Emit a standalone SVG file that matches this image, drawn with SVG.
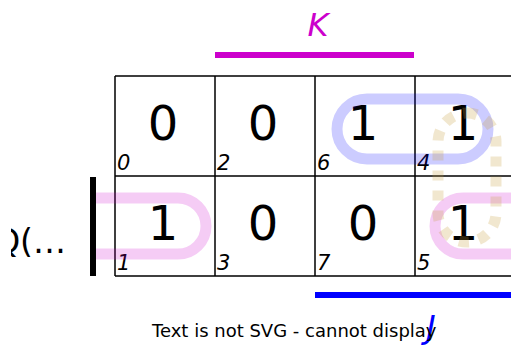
<svg xmlns="http://www.w3.org/2000/svg" width="511" height="345" viewBox="0 0 511 345">
<style>
.v{font-family:"DejaVu Sans",sans-serif;font-size:48px;text-anchor:middle;fill:#000}
.i{font-family:"DejaVu Sans",sans-serif;font-size:21px;font-style:italic;fill:#000}
.g{stroke:#000;stroke-width:1.5;fill:none}
.loop{fill:none;stroke-width:11}
</style>
<defs>
<clipPath id="qc"><rect x="11" y="0" width="500" height="345"/></clipPath>
</defs>
<rect width="511" height="345" fill="#fff"/>
<g id="grid">
<path class="g" d="M115,76H520M115,176H520M115,276H520M115,76V276M215,76V276M315,76V276M415,76V276"/>
</g>
<g id="cells">
<text class="v" x="163" y="140">0</text>
<text class="v" x="263" y="140">0</text>
<text class="v" x="363" y="140">1</text>
<text class="v" x="463" y="140">1</text>
<text class="v" x="163" y="240">1</text>
<text class="v" x="263" y="240">0</text>
<text class="v" x="363" y="240">0</text>
<text class="v" x="463" y="240">1</text>
<text class="i" x="117" y="170">0</text>
<text class="i" x="217" y="170">2</text>
<text class="i" x="317" y="170">6</text>
<text class="i" x="417" y="170">4</text>
<text class="i" x="117" y="270">1</text>
<text class="i" x="217" y="270">3</text>
<text class="i" x="317" y="270">7</text>
<text class="i" x="417" y="270">5</text>
</g>
<g id="loops">
<path class="loop" stroke="#cc00cc" stroke-opacity="0.2" d="M96,198H178A28,28 0 0 1 178,254H96"/>
<path class="loop" stroke="#cc00cc" stroke-opacity="0.2" d="M520,198H463A28,28 0 0 0 463,254H520"/>
<rect class="loop" stroke="#0000ff" stroke-opacity="0.2" x="337" y="99" width="151" height="60" rx="30"/>
<rect class="loop" stroke="#c8a040" stroke-opacity="0.25" stroke-dasharray="10,10" x="438" y="113" width="58" height="129" rx="29"/>
</g>
<g id="labels">
<text x="66" y="253" font-family="DejaVu Sans,sans-serif" font-size="33" text-anchor="end" clip-path="url(#qc)">Q(…</text>
<rect x="90" y="177" width="6" height="99" fill="#000"/>
<text x="318" y="36" font-family="DejaVu Sans,sans-serif" font-size="32" font-style="italic" text-anchor="middle" fill="#cc00cc">K</text>
<rect x="215" y="52" width="199" height="6" fill="#cc00cc"/>
<rect x="315" y="292" width="200" height="6" fill="#0000ff"/>
<text x="431" y="338" font-family="DejaVu Sans,sans-serif" font-size="32" font-style="italic" text-anchor="middle" fill="#0000ff">J</text>
<text x="152" y="337" font-family="DejaVu Sans,sans-serif" font-size="18">Text is not SVG - cannot display</text>
</g>
</svg>
